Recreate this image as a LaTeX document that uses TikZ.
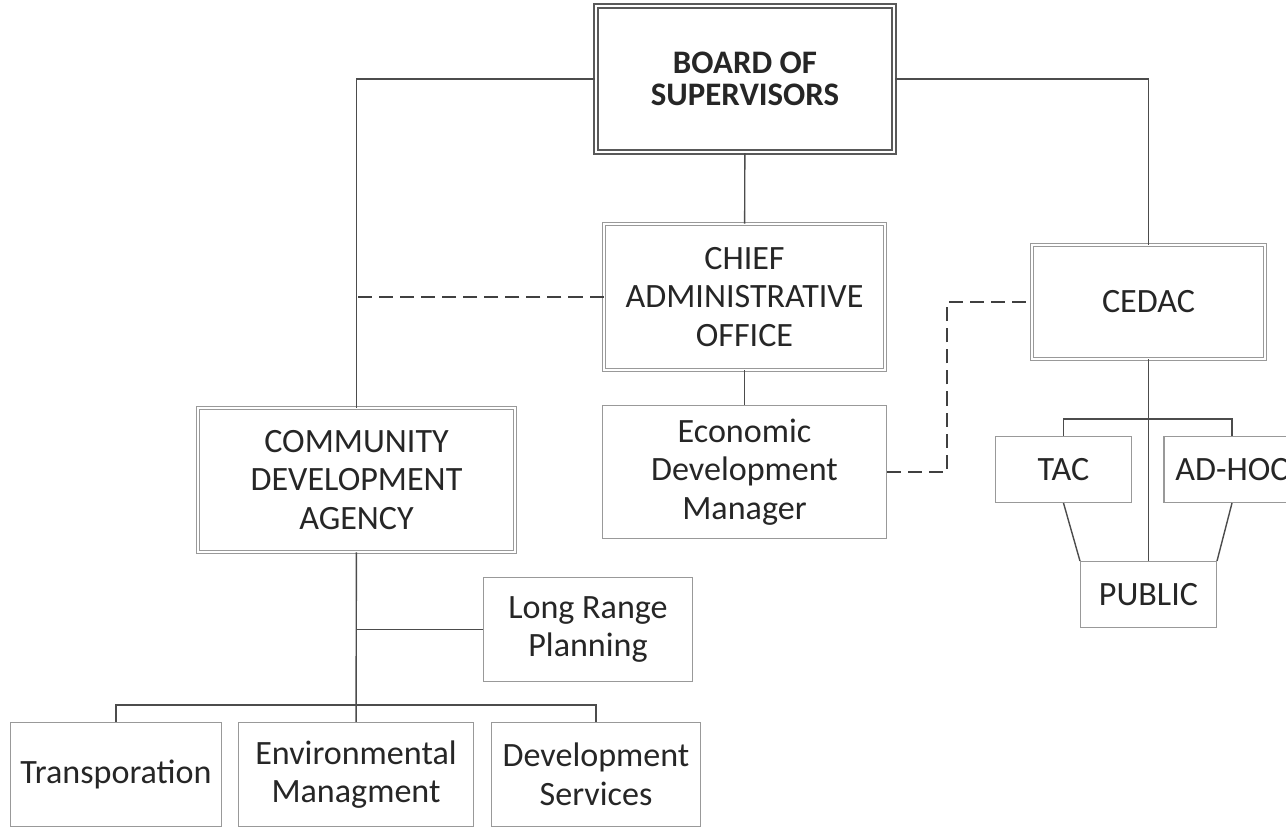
\documentclass[tikz,border=0pt]{standalone}
\usepackage{fontspec}
\setmainfont{Carlito}
\usepackage{xcolor}
\usepackage{tikz}
\usetikzlibrary{positioning}
\tikzstyle{board} = [rectangle, minimum width=5.96cm, minimum height=2.92cm, text centered, draw=black!65, double=white, double distance=1.3pt, line width=1.3pt, font=\bfseries\fontsize{18.7}{18.5}\selectfont]
\tikzstyle{office} = [rectangle, text centered, draw=black!40, double=white, double distance=1.2pt, line width=0.5pt]
\tikzstyle{unit} = [rectangle, text centered, draw=black!40, line width=0.6pt]
\tikzstyle{line} = [draw=black!70, line width=0.8pt]
\tikzstyle{dashline} = [draw=black!75, line width=0.8pt, dash pattern=on 8pt off 4pt]
\tikzset{every node/.style={align=center, text=black!85, font=\fontsize{19.4}{22}\selectfont}}

\begin{document}
\begin{tikzpicture}[x=0.02cm, y=-0.02cm]
    \useasboundingbox (0,0) rectangle (1286,829);
    \clip (0,0) rectangle (1286,829);

    \node (bos)    [board] at (745,79) {BOARD OF\\SUPERVISORS};
    \node (cao)    [office, minimum width=5.62cm, minimum height=2.92cm] at (744.5,297) {CHIEF\\ADMINISTRATIVE\\OFFICE};
    \node (cedac)  [office, minimum width=4.66cm, minimum height=2.28cm] at (1148.5,302) {CEDAC};
    \node (cda)    [office, minimum width=6.34cm, minimum height=2.88cm] at (356.5,480) {COMMUNITY\\DEVELOPMENT\\AGENCY};
    \node (edm)    [unit, minimum width=5.68cm, minimum height=2.66cm] at (744.5,472) {Economic\\Development\\Manager};
    \node (tac)    [unit, minimum width=2.72cm, minimum height=1.32cm] at (1063.5,469.5) {TAC};
    \node (adhoc)  [unit, minimum width=2.72cm, minimum height=1.32cm] at (1232,469.5) {AD-HOC};
    \node (public) [unit, minimum width=2.72cm, minimum height=1.32cm] at (1148.5,594.5) {PUBLIC};
    \node (lrp)    [unit, minimum width=4.18cm, minimum height=2.08cm] at (588,629.5) {Long Range\\Planning};
    \node (trans)  [unit, minimum width=4.22cm, minimum height=2.08cm] at (116,774.5) {Transporation};
    \node (env)    [unit, minimum width=4.70cm, minimum height=2.08cm] at (356,774.5) {Environmental\\Managment};
    \node (dev)    [unit, minimum width=4.18cm, minimum height=2.08cm] at (596,774.5) {Development\\Services};

    \coordinate (cedacfork) at (1148.5,419);
    \coordinate (cdafork)   at (357,705);
    \coordinate (dashbend)  at (947,472);

    \draw [line] (bos.west) -| (cda.north);
    \draw [line] (bos.east) -| (cedac.north);
    \draw [line] (bos) -- (cao);
    \draw [line] (cao) -- (edm);
    \draw [dashline] (cao.west) -- (cao.west -| cda.north);
    \draw [dashline] (edm.east) -- (dashbend) |- (cedac.west);
    \draw [line] (cedac) -- (public);
    \draw [line] (tac.north) |- (cedacfork) -| (adhoc.north);
    \draw [line] (tac.south) -- (public.north west);
    \draw [line] (adhoc.south) -- (public.north east);
    \draw [line] (cda) -- (env);
    \draw [line] (lrp.west) -- (lrp.west -| cda.south);
    \draw [line] (trans.north) |- (cdafork) -| (dev.north);
\end{tikzpicture}
\end{document}
